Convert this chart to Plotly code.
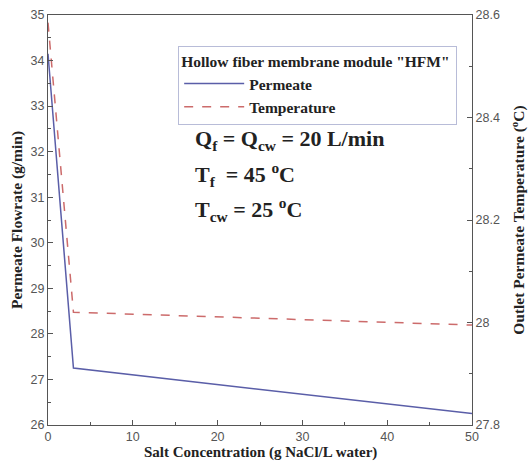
import plotly.graph_objects as go

salt = [0, 3, 50]
permeate = [34.15, 27.25, 26.25]
temperature = [28.585, 28.02, 27.995]

serif = "Liberation Serif"
sans = "Liberation Sans"
grey = "#555555"
title_color = "#222222"

fig = go.Figure()
fig.add_trace(go.Scatter(x=salt, y=permeate, mode="lines", name="<b>Permeate</b>",
                         line=dict(color="#5a5ea8", width=1.5)))
fig.add_trace(go.Scatter(x=salt, y=temperature, mode="lines", name="<b>Temperature</b>",
                         yaxis="y2", line=dict(color="#cc6b6b", width=1.5, dash="dash")))

tick_common = dict(ticks="inside", ticklen=5, tickcolor=grey, showline=True,
                   linecolor=grey, linewidth=1, showgrid=False, zeroline=False,
                   automargin=False,
                   tickfont=dict(family=sans, size=12.5, color=grey))

fig.update_layout(
    width=529, height=461,
    margin=dict(l=48, r=57, t=15, b=36),
    plot_bgcolor="white", paper_bgcolor="white",
    xaxis=dict(range=[0, 50], tickvals=[0, 10, 20, 30, 40, 50], mirror=True,
               minor=dict(tickvals=[5, 15, 25, 35, 45], ticks="inside", ticklen=3, tickcolor=grey),
               **tick_common),
    yaxis=dict(range=[26, 35], tickvals=list(range(26, 36)),
               minor=dict(dtick=0.5, ticks="inside", ticklen=3, tickcolor=grey),
               **tick_common),
    yaxis2=dict(range=[27.8, 28.6], overlaying="y", side="right",
                tickvals=[27.8, 28.0, 28.2, 28.4, 28.6], ticktext=["27.8", "28", "28.2", "28.4", "28.6"],
                minor=dict(dtick=0.1, ticks="inside", ticklen=3, tickcolor=grey),
                **tick_common),
    legend=dict(x=0.307, y=0.925, xanchor="left", yanchor="top",
                bgcolor="white", bordercolor="#b8bcd8", borderwidth=1,
                title=dict(text='<b>Hollow fiber membrane module "HFM"</b>&nbsp;',
                           font=dict(family=serif, size=15.5, color=title_color), side="top"),
                font=dict(family=serif, size=15.5, color=title_color),
                tracegroupgap=0, itemwidth=60),
    showlegend=True,
)

# axis titles
axis_font = dict(family=serif, size=15.5, color=title_color)
fig.add_annotation(text="<b>Salt Concentration (g NaCl/L water)</b>", xref="paper", yref="paper",
                   x=0.5, y=-0.067, xanchor="center", yanchor="middle", showarrow=False,
                   font=dict(family=serif, size=15, color=title_color))
fig.add_annotation(text="<b>Permeate Flowrate (g/min)</b>", xref="paper", yref="paper",
                   x=-0.073, y=0.5, xanchor="center", yanchor="middle", textangle=-90,
                   showarrow=False, font=axis_font)
fig.add_annotation(text="<b>Outlet Permeate Temperature (<sup>o</sup>C)</b>", xref="paper", yref="paper",
                   x=1.108, y=0.5, xanchor="center", yanchor="middle", textangle=-90,
                   showarrow=False, font=axis_font)

labels = ["<b>Q<sub>f</sub> = Q<sub>cw</sub> = 20 L/min</b>",
          "<b>T<sub>f</sub>  = 45 <sup>o</sup>C</b>",
          "<b>T<sub>cw</sub> = 25 <sup>o</sup>C</b>"]
ys = [0.695, 0.61, 0.525]
for t, yy in zip(labels, ys):
    fig.add_annotation(text=t, xref="paper", yref="paper", x=0.342, y=yy,
                       xanchor="left", yanchor="middle", showarrow=False,
                       font=dict(family=serif, size=22, color=title_color))

fig.write_html("out.html", config={"displayModeBar": False},
               post_script="document.body.style.margin='0';document.body.style.overflow='hidden';")
